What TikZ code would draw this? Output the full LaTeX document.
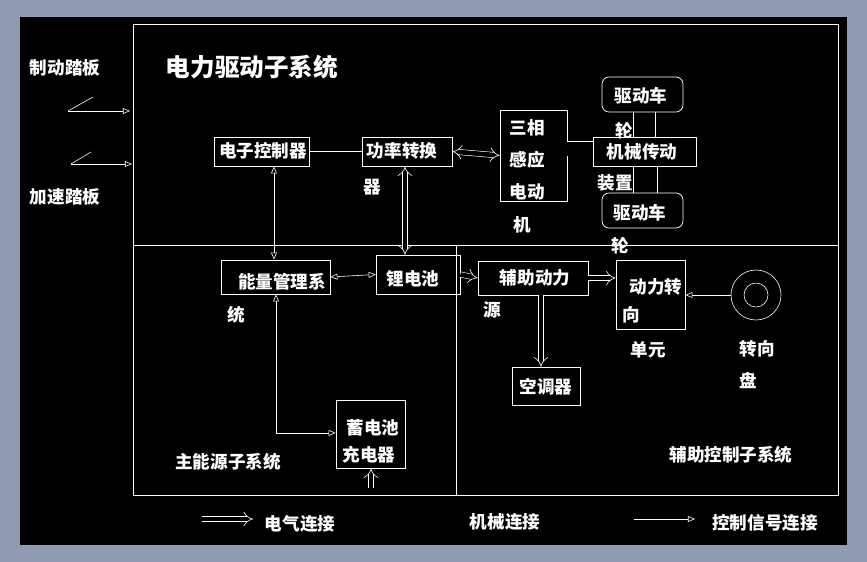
\documentclass[tikz,border=0pt]{standalone}
\usepackage{fontspec}
\setmainfont{Noto Sans CJK SC}
\usetikzlibrary{arrows.meta,arrows}
\begin{document}
\begin{tikzpicture}[x=0.03cm,y=-0.03cm,
  every node/.style={text=white,inner sep=0pt},
  box/.style={draw=white,line width=0.6pt},
  txt/.style={font=\fontsize{15}{15}\selectfont\bfseries},
  ctl/.style={draw=white,line width=0.5pt,-{Triangle[open,length=6pt,width=5pt]}},
  ctl2/.style={draw=white,line width=0.5pt,{Triangle[open,length=6pt,width=5pt]}-{Triangle[open,length=6pt,width=5pt]}},
  ele/.style={draw=white,line width=0.5pt,double=black,double distance=4pt,-Implies},
  ele2/.style={draw=white,line width=0.5pt,double=black,double distance=4pt,Implies-Implies},
  mech/.style={draw=white,line width=0.5pt,double=black,double distance=12pt},
  ln/.style={draw=white,line width=0.5pt}]
\fill[fill={rgb,255:red,143;green,155;blue,176}] (0,0) rectangle (867,562);
\fill[black] (20,17) rectangle (847,545);
\useasboundingbox (0,0) rectangle (867,562);
% frames
\draw[ln,line width=0.6pt] (133,24) rectangle (838,495);
\draw[ln] (133,245) -- (838,245);
\draw[ln] (456,245) -- (456,495);
\node[font=\fontsize{21}{21}\selectfont\bfseries] (title) at (252,67) {电力驱动子系统};
\node[txt] (brk) at (65,68) {制动踏板};
\node[txt] (acc) at (65,197) {加速踏板};
\coordinate (p1a) at (68,111); \coordinate (p1b) at (130,111);
\coordinate (p2a) at (71,164); \coordinate (p2b) at (132,164);
\draw[ln] (p1a) -- (93,97);
\draw[ln] (p2a) -- (91,152);
\draw[ctl] (p1a) -- (p1b);
\draw[ctl] (p2a) -- (p2b);
% boxes
\node[box,minimum width=2.85cm,minimum height=0.87cm] (ec) at (261.5,151.5) {};
\node[txt] (ect) at (263,151) {电子控制器};
\node[box,minimum width=2.7cm,minimum height=0.87cm] (pc) at (407,151.5) {};
\node[txt] (pct) at (402,151) {功率转换};
\node[txt] (pct2) at (372,187) {器};
\node[box,minimum width=2.01cm,minimum height=2.73cm] (mot) at (533.5,155.5) {};
\node[txt] (mt1) at (527,128) {三相};
\node[txt] (mt2) at (527,160) {感应};
\node[txt] (mt3) at (527,192) {电动};
\node[txt] (mt4) at (522,225) {机};
\node[box,minimum width=3.09cm,minimum height=0.87cm] (mg) at (644.5,151.5) {};
\node[txt] (mgt) at (642,152) {机械传动};
\node[txt] (mgt2) at (615,183) {装置};
\node[box,rounded corners=6pt,minimum width=2.43cm,minimum height=1.05cm] (w1) at (642.5,94.5) {};
\node[txt] (w1t) at (641,96) {驱动车};
\node[txt] (w1t2) at (624,131) {轮};
\node[box,rounded corners=6pt,minimum width=2.43cm,minimum height=1.05cm] (w2) at (642.5,210.5) {};
\node[txt] (w2t) at (640,213) {驱动车};
\node[txt] (w2t2) at (620,246) {轮};
\draw[ln] (w1.south -| 633,0) -- (mg.north -| 633,0);
\draw[ln] (w1.south -| 655,0) -- (mg.north -| 655,0);
\draw[ln] (mg.south -| 633,0) -- (w2.north -| 633,0);
\draw[ln] (mg.south -| 657,0) -- (w2.north -| 657,0);
\draw[mech] ([yshift=0.2cm]mot.east) -- ([yshift=0.2cm]mot.east -| mg.west);
\node[box,minimum width=3.27cm,minimum height=1.02cm] (em) at (275.5,277) {};
\node[txt] (emt) at (282,282) {能量管理系};
\node[txt] (emt2) at (236,315) {统};
\node[box,minimum width=2.52cm,minimum height=1.17cm] (li) at (418,274.5) {};
\node[txt] (lit) at (413,279) {锂电池};
\node[box,minimum width=3.3cm,minimum height=1.02cm] (aux) at (533,278) {};
\node[txt] (auxt) at (535,278) {辅助动力};
\node[txt] (auxt2) at (492,310) {源};
\node[box,minimum width=2.07cm,minimum height=2.07cm] (ps) at (650.5,294.5) {};
\node[txt] (pst) at (656,287) {动力转};
\node[txt] (pst2) at (631,315) {向};
\node[txt] (pst3) at (648,350) {单元};
\node[box,minimum width=2.04cm,minimum height=1.14cm] (ac) at (546,386) {};
\node[txt] (act) at (546,387) {空调器};
\node[box,minimum width=2.07cm,minimum height=2.04cm] (ch) at (370.5,434) {};
\node[txt] (cht) at (373,428) {蓄电池};
\node[txt] (cht2) at (369,455) {充电器};
\node[draw=white,circle,minimum size=1.5cm,line width=0.5pt] (sw) at (756,295) {};
\node[draw=white,circle,minimum size=0.72cm,line width=0.5pt] (swi) at (756,295) {};
\node[txt] (swt) at (757,349) {转向};
\node[txt] (swt2) at (748,381) {盘};
\node[txt] (mainsys) at (228,462) {主能源子系统};
\node[txt] (auxsys) at (731,455) {辅助控制子系统};
% connectors
\draw[ln] (ec.east) -- (pc.west);
\draw[ele2] (pc.east) -- (mot.west);
\draw[ctl2] (ec.south -| 274,0) -- (em.north -| 274,0);
\draw[ele2] (pc.south -| 405,0) -- (li.north -| 405,0);
\draw[ctl2] (em.east) -- (li.east -| li.west);
\draw[ele] (li.east) -- (aux.west);
\draw[ele] (aux.east) -- (ps.west |- aux.east);
\draw[ele] (aux.south -| 541,0) -- (ac.north -| 541,0);
\draw[ctl] (sw.west) -- (ps.east |- sw.west);
\draw[ctl2] (em.south -| 276,0) |- (ch.west |- 0,433);
\coordinate (chin) at (371,488);
\draw[ele] (chin) -- (ch.south -| chin);
% legend
\coordinate (l1a) at (202,519); \coordinate (l1b) at (253,519);
\draw[ele] (l1a) -- (l1b);
\node[txt] (l1t) at (300,524) {电气连接};
\coordinate (l2a) at (388,521.5); \coordinate (l2b) at (455,521.5);
\draw[mech] (l2a) -- (l2b);
\node[txt] (l2t) at (505,522) {机械连接};
\coordinate (l3a) at (634,519); \coordinate (l3b) at (695,519);
\draw[ctl] (l3a) -- (l3b);
\node[txt] (l3t) at (765,523) {控制信号连接};
\end{tikzpicture}
\end{document}
